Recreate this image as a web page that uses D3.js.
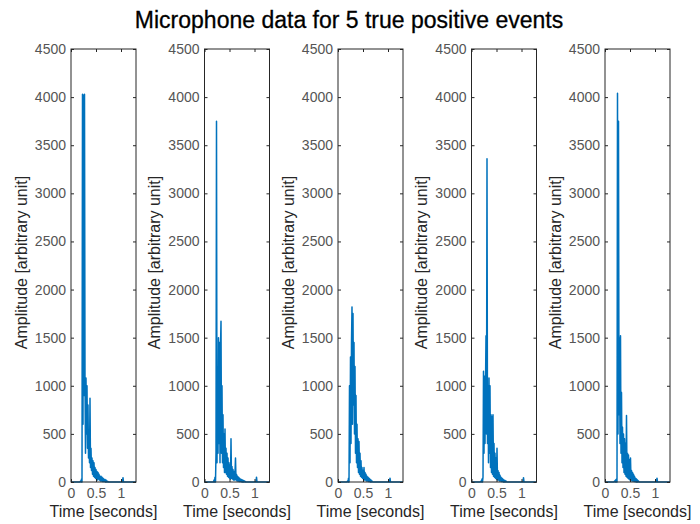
<!DOCTYPE html>
<html>
<head>
<meta charset="utf-8">
<script src="https://cdn.jsdelivr.net/npm/d3@7"></script>
<style>
  body { margin: 0; background: #fff; }
  text { font-family: "Liberation Sans", Arial, sans-serif; }
</style>
</head>
<body>
<div id="chart"></div>
<script>
'use strict';

var titleText = "Microphone data for 5 true positive events";
var xLabelText = "Time [seconds]";
var yLabelText = "Amplitude [arbitrary unit]";
var xTicks = [0, 0.5, 1];
var yTicks = [0, 500, 1000, 1500, 2000, 2500, 3000, 3500, 4000, 4500];

// samples start at 0.18 s, one every 10 ms
var sampleStart = 0.18;
var samplePeriod = 0.01;

var event1 = [0, 10, 0, 30, 0, 4030, 600, 4020, 900, 4030, 1050, 300, 1080, 500, 1000, 350,
  800, 250, 500, 200, 870, 150, 350, 120, 250, 80, 220, 60, 200, 50, 150, 40, 130, 30, 110,
  20, 100, 30, 80, 20, 60, 10, 60, 10, 50, 5, 40, 5, 30, 5, 25, 0, 20, 0, 10, 0, 5, 0];
var event2 = [0, 20, 0, 50, 0, 300, 3750, 200, 1200, 300, 1500, 400, 1450, 200, 1400, 1670,
  300, 1000, 200, 700, 150, 500, 100, 550, 100, 350, 80, 300, 60, 250, 50, 200, 40, 180, 30,
  450, 40, 160, 30, 130, 20, 110, 20, 100, 250, 20, 80, 10, 60, 10, 50, 5, 40, 5, 30, 5, 25,
  0, 20, 0, 15, 0, 10, 0, 5, 0];
var event3 = [0, 10, 0, 40, 0, 1000, 200, 1300, 400, 1450, 1820, 600, 1750, 800, 1450, 500,
  1200, 300, 900, 200, 600, 150, 450, 100, 420, 80, 300, 60, 220, 50, 150, 40, 120, 30, 150,
  20, 100, 20, 80, 10, 60, 10, 50, 5, 40, 5, 30, 0, 20, 0, 10, 0];
var event4 = [0, 10, 0, 30, 0, 50, 1150, 300, 1100, 400, 1000, 1520, 500, 3360, 400, 1000,
  200, 1080, 300, 1000, 150, 700, 100, 680, 80, 700, 60, 400, 50, 300, 40, 250, 30, 350, 20,
  120, 20, 100, 10, 70, 10, 50, 5, 40, 5, 30, 0, 20, 0, 15, 0, 10, 0];
var event5 = [0, 10, 0, 20, 0, 30, 0, 4040, 500, 3750, 700, 1500, 400, 1520, 300, 930, 200,
  570, 150, 500, 100, 450, 80, 400, 60, 690, 50, 300, 40, 280, 30, 230, 20, 250, 20, 120, 10,
  100, 10, 80, 5, 60, 5, 40, 0, 30, 0, 20, 0, 10, 0];
var events = [event1, event2, event3, event4, event5];

// small late bump near 1.04 s in every trace
var blipTime = 1.04;
var blipValues = [45, 50, 40, 45, 40];

function microphonePanels() {
  var scope = {};
  var exports = {};

  scope.cw = 700;
  scope.ch = 524;
  scope.plotTop = 49;
  scope.plotBottom = 482;
  scope.firstLeft = 71;
  scope.step = 133.5;
  scope.plotW = 65;
  scope.lineColor = "#0072BD";
  scope.axisColor = "#262626";
  scope.tickColor = "#555";

  scope.appendSvg = function(div) {
    return d3.select(div).append("svg")
      .attr("width", scope.cw)
      .attr("height", scope.ch);
  };

  scope.appendTitle = function(svg) {
    svg.append("text")
      .attr("x", 349)
      .attr("y", 28)
      .attr("text-anchor", "middle")
      .attr("font-size", 23)
      .attr("fill", "#000")
      .attr("stroke", "#000")
      .attr("stroke-width", 0.3)
      .text(titleText);
  };

  scope.toPoints = function(values, i) {
    var pts = [[0, 0]];
    values.forEach(function(v, k) {
      pts.push([sampleStart + k * samplePeriod, v]);
    });
    pts.push([blipTime - samplePeriod, 0]);
    pts.push([blipTime, blipValues[i]]);
    pts.push([blipTime + samplePeriod, 0]);
    pts.push([1.3, 0]);
    return pts;
  };

  scope.appendPanel = function(svg, values, i) {
    var left = scope.firstLeft + i * scope.step;
    var xScale = d3.scaleLinear().domain([0, 1.3]).range([0, scope.plotW]);
    var yScale = d3.scaleLinear().domain([0, 4500]).range([scope.plotBottom - scope.plotTop, 0]);
    var h = scope.plotBottom - scope.plotTop;

    var g = svg.append("g")
      .attr("transform", "translate(" + left + "," + scope.plotTop + ")");

    var line = d3.line()
      .x(function(d) { return xScale(d[0]); })
      .y(function(d) { return yScale(d[1]); });

    g.append("path")
      .datum(scope.toPoints(values, i))
      .attr("fill", "none")
      .attr("stroke", scope.lineColor)
      .attr("stroke-width", 1.5)
      .attr("stroke-linejoin", "round")
      .attr("d", line);

    // axes: labels on left / bottom, inward ticks on all four sides
    var yAxis = d3.axisLeft(yScale).tickValues(yTicks).tickSizeInner(-3).tickSizeOuter(0).tickPadding(5)
      .tickFormat(d3.format("d"));
    var yAxisR = d3.axisRight(yScale).tickValues(yTicks).tickSizeInner(-3).tickSizeOuter(0).tickFormat("");
    var xAxis = d3.axisBottom(xScale).tickValues(xTicks).tickSizeInner(-3).tickSizeOuter(0).tickPadding(6)
      .tickFormat(function(d) { return d; });
    var xAxisT = d3.axisTop(xScale).tickValues(xTicks).tickSizeInner(-3).tickSizeOuter(0).tickFormat("");

    var ya = g.append("g").call(yAxis);
    g.append("g").attr("transform", "translate(" + scope.plotW + ",0)").call(yAxisR);
    var xa = g.append("g").attr("transform", "translate(0," + h + ")").call(xAxis);
    g.append("g").call(xAxisT);

    g.selectAll(".domain").remove();
    g.selectAll(".tick line").attr("stroke", scope.axisColor);
    [ya, xa].forEach(function(a) {
      a.selectAll("text")
        .attr("font-size", 14)
        .attr("font-family", "'Liberation Sans', Arial, sans-serif")
        .attr("fill", scope.tickColor);
    });

    g.append("rect")
      .attr("width", scope.plotW)
      .attr("height", h)
      .attr("fill", "none")
      .attr("stroke", scope.axisColor)
      .attr("stroke-width", 1);

    g.append("text")
      .attr("transform", "translate(-50," + (h / 2 - 3) + ") rotate(-90)")
      .attr("text-anchor", "middle")
      .attr("dy", "0.35em")
      .attr("font-size", 16)
      .attr("fill", scope.axisColor)
      .text(yLabelText);

    g.append("text")
      .attr("x", scope.plotW / 2)
      .attr("y", h + 35)
      .attr("text-anchor", "middle")
      .attr("font-size", 16)
      .attr("fill", scope.axisColor)
      .text(xLabelText);
  };

  exports.run = function(div) {
    var svg = scope.appendSvg(div);
    scope.appendTitle(svg);
    events.forEach(function(ev, i) {
      scope.appendPanel(svg, ev, i);
    });
  };
  return exports;
}

microphonePanels().run("#chart");
</script>
</body>
</html>
